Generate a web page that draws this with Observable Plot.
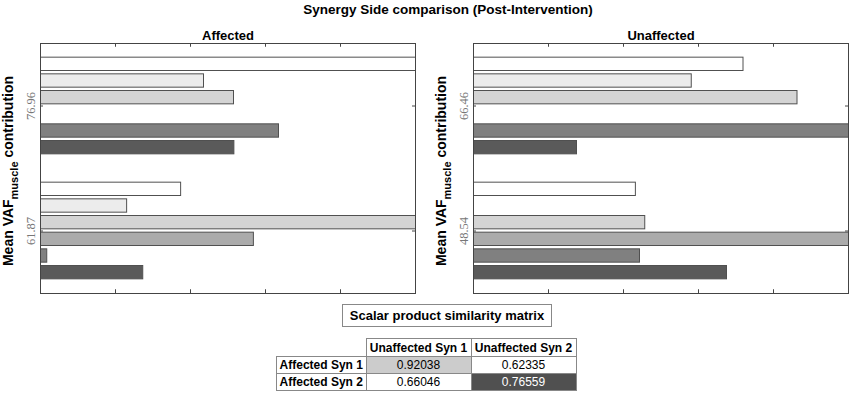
<!DOCTYPE html>
<html>
<head>
<meta charset="utf-8">
<script src="https://cdn.jsdelivr.net/npm/d3@7"></script>
<script src="https://cdn.jsdelivr.net/npm/@observablehq/plot@0.6"></script>
<style>
  html, body { margin: 0; padding: 0; background: #fff; }
  #wrap { position: relative; width: 851px; height: 402px; font-family: "Liberation Sans", Arial, sans-serif; }
  #title { position: absolute; left: 0; width: 896px; top: 2px; text-align: center; font-weight: bold; font-size: 13.5px; }
  .panel { position: absolute; top: 0; }
  #boxTitle { position: absolute; left: 342px; top: 304px; width: 208px; height: 21px; border: 1px solid #888; text-align: center; line-height: 21px; font-weight: bold; font-size: 13px; }
  #matrix { position: absolute; left: 276px; top: 338px; border-collapse: collapse; font-size: 12px; }
  #matrix td, #matrix th { border: 1px solid #888; padding: 0; text-align: center; height: 16px; }
  #matrix th { font-weight: bold; }
  #matrix .empty { border: none; }
</style>
</head>
<body>
<div id="wrap">
  <div id="title">Synergy Side comparison (Post-Intervention)</div>
  <div id="left" class="panel" style="left:0px"></div>
  <div id="right" class="panel" style="left:433px"></div>
  <div id="boxTitle">Scalar product similarity matrix</div>
  <table id="matrix"></table>
</div>
<script>
// ---- data ----
const muscles = ["M1", "M2", "M3", "M4", "M5", "M6"];
const muscleColors = ["#ffffff", "#ececec", "#d4d4d4", "#ababab", "#808080", "#5a5a5a"];
const affectedLabels = ["76.96", "61.87"];
const unaffectedLabels = ["66.46", "48.54"];
const affectedSyn1 = [1.1, 0.436, 0.516, 0, 0.636, 0.517];
const affectedSyn2 = [0.375, 0.231, 1.1, 0.569, 0.018, 0.274];
const unaffectedSyn1 = [0.72, 0.582, 0.864, 0, 1.1, 0.276];
const unaffectedSyn2 = [0.433, 0, 0.458, 1.1, 0.444, 0.676];
const xTicks = [0.2, 0.4, 0.6, 0.8];
const matrixCols = ["Unaffected Syn 1", "Unaffected Syn 2"];
const matrixRows = ["Affected Syn 1", "Affected Syn 2"];
const matrixValues = [[0.92038, 0.62335], [0.66046, 0.76559]];
const matrixBg = [["#cccccc", "#ffffff"], ["#ffffff", "#505050"]];
const matrixFg = [["#000", "#000"], ["#000", "#fff"]];

function rows(syns) {
  const out = [];
  const pitch = 0.8 / muscles.length;
  syns.forEach((vals, g) => {
    vals.forEach((v, i) => {
      if (v <= 0) return;
      const c = (g + 1) + (i - (muscles.length - 1) / 2) * pitch;
      out.push({muscle: muscles[i], value: v, y1: c - 0.4 * pitch, y2: c + 0.4 * pitch});
    });
  });
  return out;
}

function panel(title, syns, labels, width, marginRight) {
  const data = rows(syns);
  const svg = Plot.plot({
    width, height: 300,
    marginLeft: 40, marginRight, marginTop: 43, marginBottom: 7,
    style: {fontFamily: "Liberation Sans, Arial, sans-serif", background: "transparent", overflow: "visible"},
    x: {domain: [0, 1], axis: null},
    y: {domain: [2.5, 0.5], axis: null},
    color: {domain: muscles, range: muscleColors},
    marks: [
      Plot.rectX(data, {x1: 0, x2: "value", y1: "y1", y2: "y2", fill: "muscle", stroke: "#505050", strokeWidth: 1, clip: true}),
      Plot.frame({stroke: "#444", strokeWidth: 1}),
      Plot.ruleX(xTicks, {x: d => d, y1: 2.5, y2: 2.47, stroke: "#444"}),
      Plot.ruleX(xTicks, {x: d => d, y1: 0.5, y2: 0.53, stroke: "#444"}),
      Plot.ruleY([1, 2], {y: d => d, x1: 0, x2: 0.008, stroke: "#444"}),
      Plot.ruleY([1, 2], {y: d => d, x1: 1, x2: 0.992, stroke: "#444"}),
      Plot.text([1, 2], {y: d => d, text: d => labels[d - 1], frameAnchor: "left", dx: -10, rotate: -90,
        textAnchor: "middle", fill: "#777", fontFamily: "Liberation Serif, serif", fontSize: 12.5}),
      Plot.text([title], {frameAnchor: "top", lineAnchor: "bottom", dy: -4, fontWeight: "bold", fontSize: 13, fill: "#000"})
    ]
  });
  const s = d3.select(svg);
  const t = s.append("text")
    .attr("transform", "translate(12.5,171) rotate(-90)")
    .attr("text-anchor", "middle")
    .attr("font-weight", "bold")
    .attr("font-size", 14)
    .attr("fill", "#000");
  t.append("tspan").text("Mean VAF");
  t.append("tspan").attr("font-size", 11).attr("dy", 5).text("muscle");
  t.append("tspan").attr("dy", -5).text(" contribution");
  return svg;
}

document.getElementById("left").appendChild(panel("Affected", [affectedSyn1, affectedSyn2], affectedLabels, 425, 10));
document.getElementById("right").appendChild(panel("Unaffected", [unaffectedSyn1, unaffectedSyn2], unaffectedLabels, 418, 3));

// table
const tbl = d3.select("#matrix");
const head = tbl.append("tr");
head.append("td").attr("class", "empty").style("width", "89px");
matrixCols.forEach(c => head.append("th").style("width", "104px").style("height", "17px").text(c));
matrixRows.forEach((r, i) => {
  const tr = tbl.append("tr");
  tr.append("th").text(r);
  matrixValues[i].forEach((v, j) => tr.append("td")
    .style("background", matrixBg[i][j]).style("color", matrixFg[i][j])
    .text(v.toFixed(5)));
});
</script>
</body>
</html>
